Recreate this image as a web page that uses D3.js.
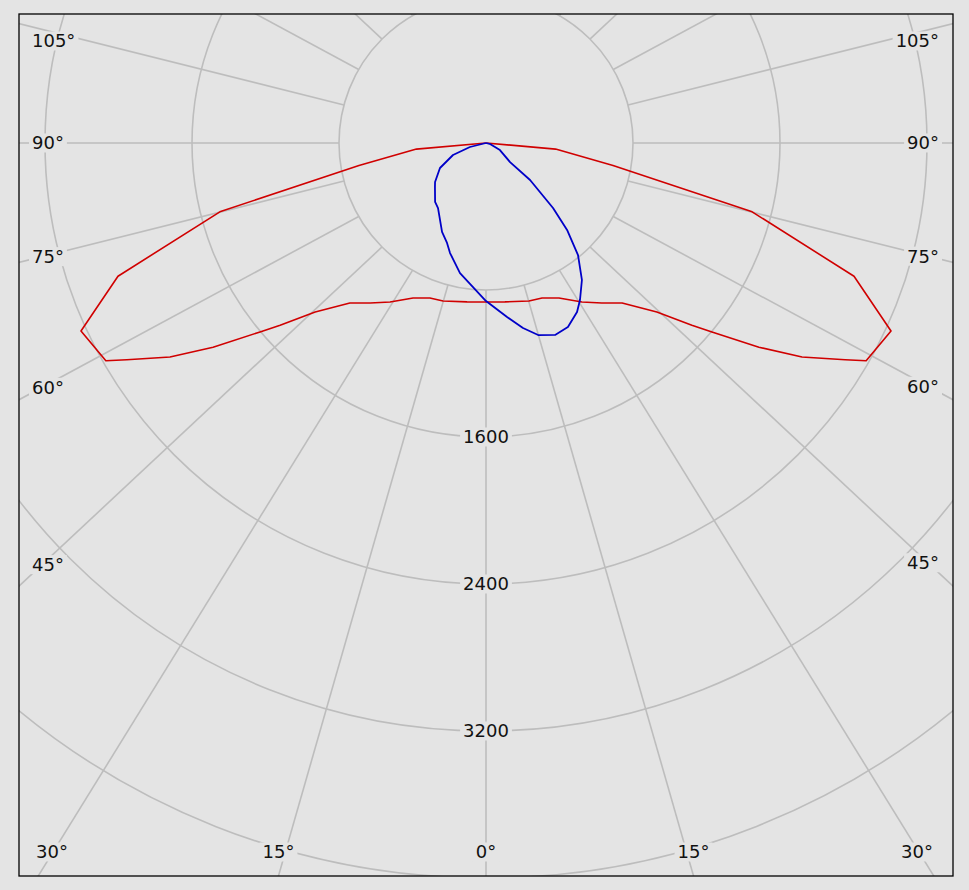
<!DOCTYPE html>
<html><head><meta charset="utf-8">
<script src="https://cdn.jsdelivr.net/npm/d3@7"></script>
<style>
html,body{margin:0;padding:0;background:#e4e4e4;}
svg{display:block;}
text{font-family:"DejaVu Sans",Verdana,sans-serif;}
</style>
</head><body>
<svg id="chart" width="969" height="890"></svg>
<script>
// ---- data ----
const ringValues = [800, 1600, 2400, 3200, 4000, 4800];
const ringLabelValues = [1600, 2400, 3200];
const spokeAngles = d3.range(0, 360, 15);
const angleLabelValues = [0, 15, 30, 45, 60, 75, 90, 105];

// red curve (symmetric plane), gamma in degrees from nadir, intensity in cd
const redGamma  = [0, 6.8, 15.2, 19.9, 25.2, 31.1, 35.9, 40.4, 45.3, 48.5, 50.1, 53.2, 55.9, 58.9, 60.2, 65.1, 70.1, 75.5, 80, 85, 90];
const redValues = [865, 871, 891, 897, 932, 1011, 1075, 1143, 1308, 1496, 1603, 1855, 2077, 2283, 2384, 2430, 2130, 1496, 702, 380, 0];

// blue curve, right half
const blueRightGamma  = [0, 6.9, 11.3, 15.2, 19.8, 24, 28.3, 30.9, 35, 39.4, 43, 45.9, 50, 51.6, 63, 75, 90];
const blueRightValues = [860, 954, 1027, 1083, 1110, 1096, 1045, 996, 910, 789, 647, 508, 313, 167, 85, 25, 0];
// blue curve, left half
const blueLeftGamma  = [0, 11.3, 18.1, 21.3, 26.3, 36.4, 40.8, 49.2, 52.6, 61.5, 70, 76, 90];
const blueLeftValues = [860, 722, 630, 584, 540, 440, 424, 367, 349, 285, 191, 90, 0];

// ---- layout / style ----
const W = 969, H = 890;
const frame = {x0: 19, y0: 14, x1: 953, y1: 876};
const cx = 486, cy = 143;
const bg = "#e4e4e4", gridColor = "#bdbdbd";
const spokeOuter = {rx: 1060, ry: 1000};

const svg = d3.select("#chart");
svg.append("rect").attr("width", W).attr("height", H).attr("fill", bg);

svg.append("clipPath").attr("id", "clip")
  .append("rect").attr("x", frame.x0).attr("y", frame.y0)
  .attr("width", frame.x1 - frame.x0).attr("height", frame.y1 - frame.y0);

const r = d3.scaleLinear().domain([0, 800]).range([0, 147]);
const rad = d => d * Math.PI / 180;

const plot = svg.append("g").attr("clip-path", "url(#clip)");
const g = plot.append("g").attr("transform", `translate(${cx},${cy})`);

// rings
g.selectAll("circle.ring").data(ringValues).join("circle")
  .attr("class", "ring").attr("r", d => r(d))
  .attr("fill", "none").attr("stroke", gridColor).attr("stroke-width", 1.6);

// spokes
const r1 = r(ringValues[0]);
function spokeEnds(a) {
  const s = Math.sin(rad(a)), c = Math.cos(rad(a));
  return [[r1 * s, r1 * c], [spokeOuter.rx * s, spokeOuter.ry * c]];
}
g.selectAll("line.spoke").data(spokeAngles).join("line")
  .attr("class", "spoke")
  .attr("x1", d => spokeEnds(d)[0][0]).attr("y1", d => spokeEnds(d)[0][1])
  .attr("x2", d => spokeEnds(d)[1][0]).attr("y2", d => spokeEnds(d)[1][1])
  .attr("stroke", gridColor).attr("stroke-width", 1.6);

// labels
const labelLayer = svg.append("g");
function addLabel(txt, x, y, anchor, clampX) {
  const grp = labelLayer.append("g");
  const t = grp.append("text").text(txt).attr("x", x).attr("y", y)
    .attr("dy", "0.36em").attr("text-anchor", anchor)
    .attr("font-size", 18).attr("fill", "#111");
  let bb = t.node().getBBox();
  if (clampX) {
    let shift = 0;
    if (bb.x < clampX[0]) shift = clampX[0] - bb.x;
    if (bb.x + bb.width > clampX[1]) shift = clampX[1] - (bb.x + bb.width);
    t.attr("x", x + shift);
    bb = t.node().getBBox();
  }
  grp.insert("rect", "text").attr("x", bb.x - 3).attr("y", bb.y + 1)
    .attr("width", bb.width + 6).attr("height", bb.height - 2).attr("fill", bg);
}

ringLabelValues.forEach(v => addLabel(String(v), cx, cy + r(v), "middle"));

angleLabelValues.forEach(a => {
  [-1, 1].forEach(side => {
    if (a === 0 && side === 1) return;
    const [p1, p2] = spokeEnds(a);
    const P1 = [cx + side * p1[0], cy + p1[1]];
    const P2 = [cx + side * p2[0], cy + p2[1]];
    if (a < 45) {
      const yb = frame.y1;
      const t = (yb - P1[1]) / (P2[1] - P1[1]);
      const x = P1[0] + t * (P2[0] - P1[0]);
      addLabel(a + "°", x, frame.y1 - 24, "middle", [frame.x0 + 17, frame.x1 - 20]);
    } else {
      const xl = side < 0 ? frame.x0 + 23 : frame.x1 - 25;
      const t = (xl - P1[0]) / (P2[0] - P1[0]);
      let y = P1[1] + t * (P2[1] - P1[1]);
      y = Math.max(frame.y0 + 27, Math.min(frame.y1 - 24, y));
      if (side < 0) addLabel(a + "°", frame.x0 + 13, y, "start");
      else addLabel(a + "°", frame.x1 - 14, y, "end");
    }
  });
});

// curves
const line = d3.lineRadial().angle(d => d[0]).radius(d => r(d[1]));
function halfPoints(gammas, values, side) {
  return gammas.map((gm, i) => [side > 0 ? Math.PI - rad(gm) : Math.PI + rad(gm), values[i]]);
}
const redPts = halfPoints(redGamma, redValues, -1).reverse().concat(halfPoints(redGamma, redValues, 1));
const bluePts = halfPoints(blueLeftGamma, blueLeftValues, -1).reverse().concat(halfPoints(blueRightGamma, blueRightValues, 1));

g.append("path").attr("d", line(redPts)).attr("fill", "none")
  .attr("stroke", "#d00000").attr("stroke-width", 1.6).attr("stroke-linejoin", "round");
g.append("path").attr("d", line(bluePts)).attr("fill", "none")
  .attr("stroke", "#0000c8").attr("stroke-width", 1.8).attr("stroke-linejoin", "round");

// frame
svg.append("rect").attr("x", frame.x0).attr("y", frame.y0)
  .attr("width", frame.x1 - frame.x0).attr("height", frame.y1 - frame.y0)
  .attr("fill", "none").attr("stroke", "#000").attr("stroke-width", 1.3);
</script>
</body></html>
